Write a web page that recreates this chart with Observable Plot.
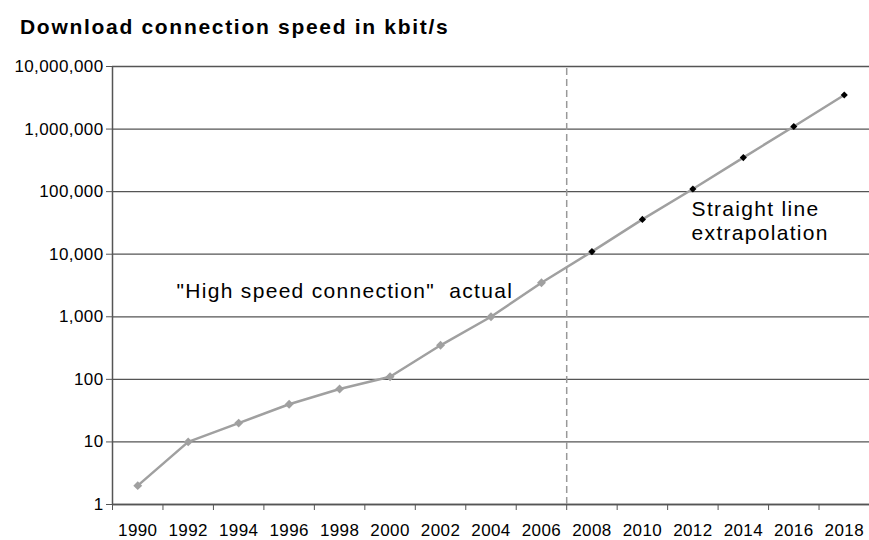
<!DOCTYPE html>
<html>
<head>
<meta charset="utf-8">
<script src="https://cdn.jsdelivr.net/npm/d3@7"></script>
<script src="https://cdn.jsdelivr.net/npm/@observablehq/plot@0.6"></script>
<style>
  body { margin: 0; background: #fff; }
  #title {
    font-family: "Liberation Sans", Arial, sans-serif;
    font-weight: bold;
    font-size: 21px;
    letter-spacing: 1.7px;
    line-height: 24px;
    height: 46px;
    box-sizing: border-box;
    padding: 15px 0 0 20px;
    color: #000;
  }
</style>
</head>
<body>
<div id="title">Download connection speed in kbit/s</div>
<div id="chart"></div>
<script>
// Data
const years  = [1990, 1992, 1994, 1996, 1998, 2000, 2002, 2004, 2006, 2008, 2010, 2012, 2014, 2016, 2018];
const speeds = [2, 10, 20, 40, 70, 110, 350, 1000, 3500, 11000, 36000, 110000, 350000, 1100000, 3500000];
const kinds  = ["actual","actual","actual","actual","actual","actual","actual","actual","actual",
                "extrapolation","extrapolation","extrapolation","extrapolation","extrapolation","extrapolation"];
const yTicks = [1, 10, 100, 1000, 10000, 100000, 1000000, 10000000];
const xBoundaries = [1989, 1991, 1993, 1995, 1997, 1999, 2001, 2003, 2005, 2007, 2009, 2011, 2013, 2015, 2017, 2019];
const splitYear = 2007;
const labelActual = "\"High speed connection\"\u00a0 actual";
const labelExtrap = "Straight line\nextrapolation";

const data = years.map((year, i) => ({year, speed: speeds[i], kind: kinds[i]}));
const actual = data.filter(d => d.kind === "actual");
const extrap = data.filter(d => d.kind === "extrapolation");

const gray = "#a0a0a0";
const axisColor = "#555";

const chart = Plot.plot({
  width: 869,
  height: 494,
  marginLeft: 112,
  marginRight: 0,
  marginTop: 20,
  marginBottom: 36,
  style: {
    fontFamily: '"Liberation Sans", Arial, sans-serif',
    fontSize: "17px",
    color: "#000",
    background: "#fff",
    overflow: "visible"
  },
  x: {type: "linear", domain: [xBoundaries[0], xBoundaries[xBoundaries.length - 1]]},
  y: {type: "log", domain: [yTicks[0], yTicks[yTicks.length - 1]]},
  marks: [
    Plot.gridY(yTicks, {stroke: axisColor, strokeOpacity: 1, strokeWidth: 1.3}),
    Plot.ruleX([xBoundaries[0]], {stroke: axisColor, strokeWidth: 1.5}),
    Plot.ruleY([yTicks[0]], {stroke: axisColor, strokeWidth: 1.5}),
    Plot.axisY(yTicks, {tickSize: 6, tickPadding: 3, tickFormat: d3.format(","), stroke: axisColor, fill: "#000", label: null}),
    Plot.axisX(xBoundaries, {tickSize: 6, tickFormat: () => "", stroke: axisColor, label: null}),
    Plot.axisX(years, {tickSize: 0, tickPadding: 19, tickFormat: d => String(d), fill: "#000", label: null}),
    Plot.ruleX([splitYear], {y1: yTicks[0], y2: yTicks[yTicks.length - 1], stroke: "#999", strokeWidth: 1.5, strokeDasharray: "7,4"}),
    Plot.line(data, {x: "year", y: "speed", stroke: gray, strokeWidth: 2.5}),
    Plot.dot(actual, {x: "year", y: "speed", symbol: "diamond2", r: 4, fill: gray, stroke: "none"}),
    Plot.dot(extrap, {x: "year", y: "speed", symbol: "diamond2", r: 3.2, fill: "#000", stroke: "none"}),
    Plot.text([labelActual], {x: 1991.54, y: 3480, text: d => d, textAnchor: "start", lineAnchor: "top", fontSize: 21, fill: "#000"}),
    Plot.text([labelExtrap], {x: 2011.95, y: 76600, text: d => d, textAnchor: "start", lineAnchor: "top", fontSize: 21, lineHeight: 24 / 21, fill: "#000"})
  ]
});

d3.select(chart).selectAll('g[aria-label="text"] text').style("letter-spacing", "1.3px");
d3.select(chart).selectAll('g[aria-label$="tick label"] text').style("letter-spacing", "0.4px");
document.getElementById("chart").appendChild(chart);
</script>
</body>
</html>
